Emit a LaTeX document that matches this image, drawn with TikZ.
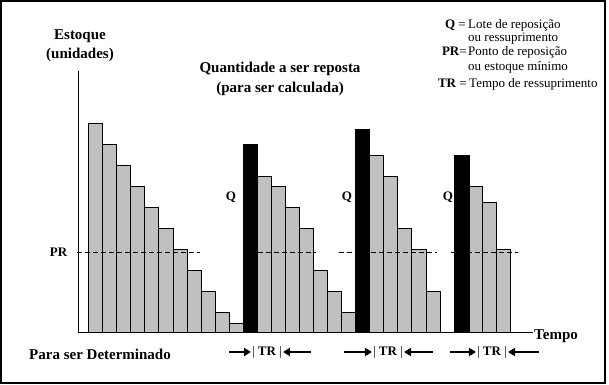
\documentclass[tikz,border=0pt]{standalone}
\usepackage{fontspec}
\setmainfont{Liberation Serif}
\usetikzlibrary{arrows.meta}
\definecolor{bargray}{RGB}{192,192,192}
\begin{document}
\begin{tikzpicture}[x=1pt,y=-1pt,
  gbar/.style={fill=bargray,draw=black,line width=0.8pt},
  kbar/.style={fill=black,draw=black,line width=0.8pt},
  prline/.style={draw=black,line width=0.8pt,dash pattern=on 5pt off 3pt},
  axisline/.style={draw=black,line width=0.9pt},
  ttl/.style={font=\fontsize{15}{17}\selectfont\bfseries,inner sep=0pt,anchor=base},
  lbl/.style={font=\fontsize{13}{15}\selectfont\bfseries,inner sep=0pt,anchor=base},
  leg/.style={font=\fontsize{13}{15}\selectfont,inner sep=0pt,anchor=base west},
  legkey/.style={font=\fontsize{13}{15}\selectfont,inner sep=0pt,anchor=base east},
  trarrow/.style={draw=black,line width=1.2pt,-{Triangle[length=7pt,width=8.5pt]}}
]
\useasboundingbox (0,0) rectangle (609,384);
\draw[line width=1.6pt] (1,1) rectangle (605,383);

% grey bars
\foreach \l/\r/\t in {
  88.3/102.4/123.3, 102.4/116.5/144.3, 116.5/130.6/165.3, 130.6/144.7/186.3,
  144.7/158.8/207.3, 158.8/172.9/228.3, 172.9/187/249.3, 187/201.1/270.3,
  201.1/215.2/291.3, 215.2/229.3/312, 229.3/243.3/323.3,
  257.7/271.7/176.7, 271.7/285.7/186.3, 285.7/299.7/207.3, 299.7/313.7/228.3,
  313.7/327.7/270.3, 327.7/341.7/291.3, 341.7/355.7/312.3,
  369.5/383.6/155, 383.6/397.7/176.3, 397.7/411.8/228.3, 411.8/425.9/249.3,
  425.9/440/291.5,
  469/482.8/186.3, 482.8/496.6/202.3, 496.6/510.4/249.3}
  \draw[gbar] (\l,332.7) rectangle (\r,\t);

% PR dashed line
\coordinate (pr1a) at (77,252.5);  \coordinate (pr1b) at (200,252.5);
\coordinate (pr2a) at (257.7,252.5); \coordinate (pr2b) at (316,252.5);
\coordinate (pr3a) at (339,252.5); \coordinate (pr3b) at (437,252.5);
\coordinate (pr4a) at (451,252.5); \coordinate (pr4b) at (518,252.5);
\draw[prline] (pr1a) -- (pr1b);
\draw[prline] (pr2a) -- (pr2b);
\draw[prline] (pr3a) -- (pr3b);
\draw[prline] (pr4a) -- (pr4b);

% black replenishment bars
\draw[kbar] (243.3,332.7) rectangle (257.7,144);
\draw[kbar] (355.7,332.7) rectangle (369.5,129);
\draw[kbar] (454,332.7) rectangle (469,155);

% axes
\coordinate (ytop) at (78,71);
\coordinate (orig) at (78,332.7);
\coordinate (xend) at (533,332.7);
\draw[axisline] (ytop) -- (orig) -- (xend);

% titles
\node[ttl] (est) at (80,39) {Estoque};
\node[ttl] (uni) at (80,58.5) {(unidades)};
\node[ttl] (qtd) at (280,72.5) {Quantidade a ser reposta};
\node[ttl] (calc) at (280,92.5) {(para ser calculada)};
\node[ttl,anchor=base west] (tempo) at (534,339) {Tempo};
\node[ttl,anchor=base west] (det) at (29,359.5) {Para ser Determinado};

% labels
\node[lbl] (prl) at (58.5,256) {PR};
\node[lbl] (q1) at (231,200) {Q};
\node[lbl] (q2) at (347,200) {Q};
\node[lbl] (q3) at (448,200) {Q};

% legend
\node[legkey] (k1) at (466,28) {\textbf{Q} =};
\node[leg] (d1) at (468,28) {Lote de reposição};
\node[leg] (d1b) at (468,41.5) {ou ressuprimento};
\node[legkey] (k2) at (467,55) {\textbf{PR}=};
\node[leg] (d2) at (468,55) {Ponto de reposição};
\node[leg] (d2b) at (468,70) {ou estoque mínimo};
\node[legkey] (k3) at (467,87) {\textbf{TR} =};
\node[leg] (d3) at (469,87) {Tempo de ressuprimento};

% TR markers
\node[lbl,anchor=center] (tr1) at (267,352) {\textmd{|} TR \textmd{|}};
\node[lbl,anchor=center] (tr2) at (388,352) {\textmd{|} TR \textmd{|}};
\node[lbl,anchor=center] (tr3) at (492,352) {\textmd{|} TR \textmd{|}};
\coordinate (a1l) at (229,352); \coordinate (a1r) at (310.5,352);
\coordinate (a2l) at (344,352); \coordinate (a2r) at (433,352);
\coordinate (a3l) at (450,352); \coordinate (a3r) at (539,352);
\draw[trarrow] (a1l) -- ([xshift=-1pt]tr1.west);
\draw[trarrow] (a1r) -- ([xshift=1pt]tr1.east);
\draw[trarrow] (a2l) -- ([xshift=-1pt]tr2.west);
\draw[trarrow] (a2r) -- ([xshift=1pt]tr2.east);
\draw[trarrow] (a3l) -- ([xshift=-1pt]tr3.west);
\draw[trarrow] (a3r) -- ([xshift=1pt]tr3.east);
\end{tikzpicture}
\end{document}
